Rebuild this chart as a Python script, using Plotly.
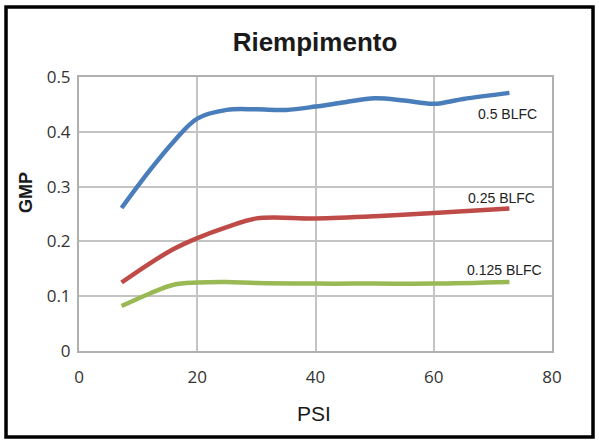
import plotly.graph_objects as go

# Serie (PSI vs GMP)
psi_blue = [7.2, 12, 16, 20, 25, 30, 35, 40, 45, 50, 55, 60, 65, 72.8]
gmp_blue = [0.261, 0.33, 0.382, 0.424, 0.44, 0.441, 0.44, 0.446, 0.454, 0.461, 0.457, 0.451, 0.46, 0.471]

psi_red = [7.2, 12, 16, 20, 25, 30, 40, 50, 60, 72.8]
gmp_red = [0.125, 0.16, 0.186, 0.206, 0.226, 0.242, 0.242, 0.246, 0.252, 0.26]

psi_green = [7.2, 12, 16, 20, 25, 30, 40, 50, 60, 72.8]
gmp_green = [0.082, 0.105, 0.121, 0.125, 0.126, 0.124, 0.123, 0.123, 0.123, 0.126]

series_labels = ["0.5 BLFC", "0.25 BLFC", "0.125 BLFC"]
label_pos = [(72.4, 0.4325), (71.4, 0.279), (71.97, 0.148)]

x_ticks = [0, 20, 40, 60, 80]
y_ticks = [0, 0.1, 0.2, 0.3, 0.4, 0.5]
y_tick_text = ["0", "0.1", "0.2", "0.3", "0.4", "0.5"]

colors = ["#4A7EBB", "#BE4B48", "#98B954"]

fig = go.Figure()
for xs, ys, c in zip([psi_blue, psi_red, psi_green], [gmp_blue, gmp_red, gmp_green], colors):
    fig.add_trace(go.Scatter(x=xs, y=ys, mode="lines",
                             line=dict(color=c, width=4.5, shape="spline", smoothing=1.0),
                             showlegend=False))

for text, (lx, ly) in zip(series_labels, label_pos):
    fig.add_annotation(x=lx, y=ly, text=text, showarrow=False,
                       font=dict(family="Arial", size=14, color="#222222"))

# titoli assi come annotazioni per posizionarli come nel riferimento
fig.add_annotation(xref="paper", yref="paper", x=(26 - 79) / 473, y=(351 - 193) / 274,
                   xanchor="center", yanchor="middle",
                   text="<b>GMP</b>", textangle=-90, showarrow=False,
                   font=dict(family="Arial", size=18, color="#1a1a1a"))
fig.add_annotation(xref="paper", yref="paper", x=(314 - 79) / 473, y=(351 - 413) / 274,
                   xanchor="center", yanchor="middle",
                   text="PSI", showarrow=False,
                   font=dict(family="Arial", size=21, color="#1a1a1a"))

grid = "#C4C4C4"
fig.update_xaxes(range=[0, 80], tickvals=x_ticks, showgrid=True, gridcolor=grid, gridwidth=1.5,
                 showline=True, linecolor="#B0B0B0", linewidth=2, mirror=True, zeroline=False,
                 ticks="", ticklabelstandoff=10,
                 tickfont=dict(family="Open Sans", size=17, color="#333333"))
fig.update_yaxes(range=[0, 0.5], tickvals=y_ticks, ticktext=y_tick_text, showgrid=True,
                 gridcolor=grid, gridwidth=1.5, showline=True, linecolor="#B0B0B0", linewidth=2,
                 mirror=True, zeroline=False, ticks="", ticklabelstandoff=3,
                 tickfont=dict(family="Open Sans", size=17, color="#333333"))

# cornice esterna nera
fig.add_shape(type="rect", xref="paper", yref="paper", x0=-0.1543, x1=1.0867, y0=-0.3139, y1=1.2555,
              line=dict(color="black", width=3.5), layer="below")

fig.update_layout(
    width=599, height=440,
    margin=dict(l=79, r=47, t=77, b=89),
    paper_bgcolor="white", plot_bgcolor="white",
    title=dict(text="<b>Riempimento</b>", x=315 / 599, xanchor="center", y=1 - 42 / 440, yanchor="middle",
               font=dict(family="Arial", size=26, color="#1a1a1a")),
)

fig.write_html("out.html", config={"displayModeBar": False},
               post_script="document.body.style.margin='0px';")
